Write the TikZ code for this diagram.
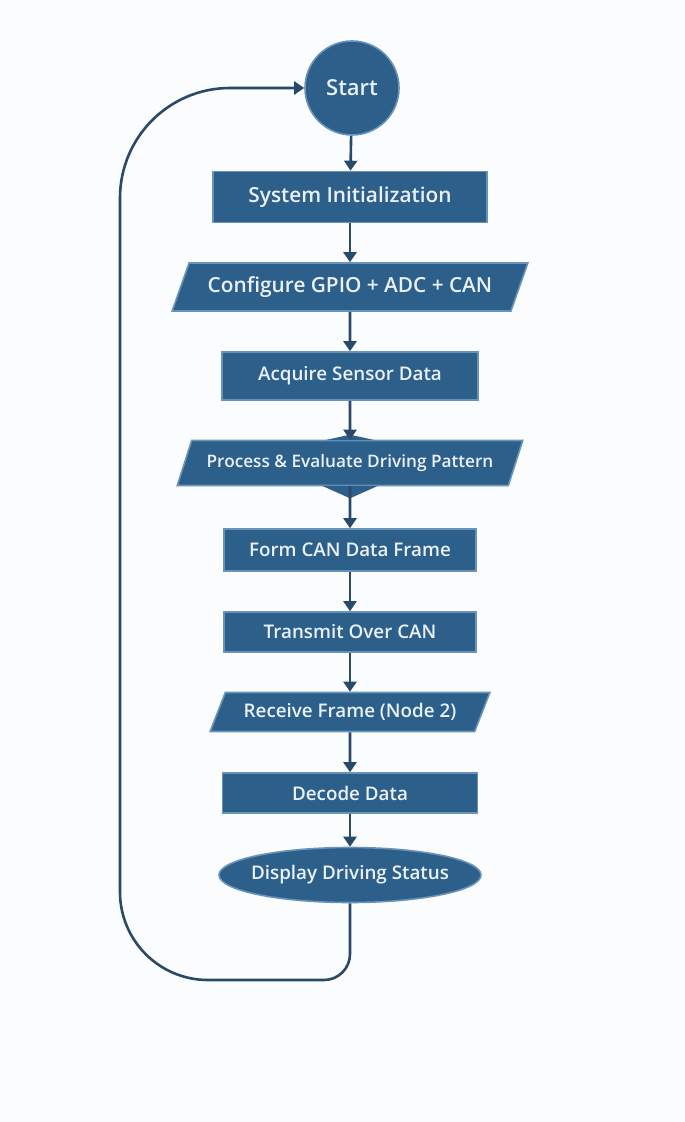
\documentclass[tikz,border=0pt]{standalone}
\usepackage{fontspec}
\setmainfont{Open Sans}[BoldFont={* Semibold}]
\usetikzlibrary{arrows.meta,shapes.geometric,calc}
\definecolor{flowblue}{HTML}{2D5F8B}
\definecolor{flowedge}{HTML}{6A93B8}
\definecolor{flowink}{HTML}{29496A}
\definecolor{flowtext}{HTML}{EAF1F8}
\definecolor{flowpaper}{HTML}{FBFCFD}
\tikzset{
  bx/.style={fill=flowblue, draw=flowedge, line width=0.8pt, text=flowtext, font=\fontsize{9.4}{11}\selectfont\bfseries, align=center, inner sep=2pt},
  prc/.style={bx, rectangle},
  io/.style={bx, trapezium, trapezium stretches=true, trapezium left angle=62, trapezium right angle=118},
  term/.style={bx, ellipse, inner xsep=-3.5pt},
  norm/.style={},
  big/.style={font=\fontsize{10.4}{12}\selectfont\bfseries},
  small/.style={font=\fontsize{8.6}{10}\selectfont\bfseries},
  arr/.style={-{Triangle[length=5pt,width=6.5pt]}, line width=1.3pt, color=flowink},
}

\begin{document}
\begin{tikzpicture}[x=0.5pt, y=-0.5pt]
    \useasboundingbox[fill=flowpaper] (0,0) rectangle (684,1122);
    \node[bx, circle, minimum size=47pt, font=\fontsize{11}{13}\selectfont\bfseries] (s0) at (352,88) {Start};
    % boxes down the main flow: name/y/style/extra/width/height/text
    \foreach \n/\y/\st/\op/\w/\h/\tx in {
      1/197/prc/big/137/25.5/{System Initialization},
      2/287/io/big/178/24/{Configure GPIO + ADC + CAN},
      3/376/prc/norm/128/24/{Acquire Sensor Data},
      4/463/io/small/173/22.5/{Process \& Evaluate Driving Pattern},
      5/550/prc/norm/126/21/{Form CAN Data Frame},
      6/632/prc/norm/126/20/{Transmit Over CAN},
      7/712/io/norm/140/19.5/{Receive Frame (Node 2)},
      8/793/prc/norm/127.5/20/{Decode Data},
      9/875/term/norm/131/27.5/{Display Driving Status}}
    {
      \node[\st, \op, minimum width=\w pt, minimum height=\h pt] (s\n) at (350,\y) {\tx};
    }
    % small peaks on the evaluate step
    \fill[flowblue] ($(s4.north)+(-25,0.5)$) -- ($(s4.north)+(0,-5)$) -- ($(s4.north)+(25,0.5)$) -- cycle;
    \fill[flowblue] ($(s4.south)+(-28,-0.5)$) -- ($(s4.south)+(0,12)$) -- ($(s4.south)+(28,-0.5)$) -- cycle;
    \foreach \a/\b in {0/1,1/2,2/3,3/4,4/5,5/6,6/7,7/8,8/9} \draw[arr] (s\a) -- (s\b);
    % loop back to the start
    \coordinate (lpb) at (120,980);
    \coordinate (lpt) at (120,88);
    \draw[arr] (s9.south) [rounded corners=13pt] -- (s9.south |- lpb) [rounded corners=44pt] -- (lpb) [rounded corners=55pt] -- (lpt) -- (s0.west);
  \end{tikzpicture}
\end{document}
